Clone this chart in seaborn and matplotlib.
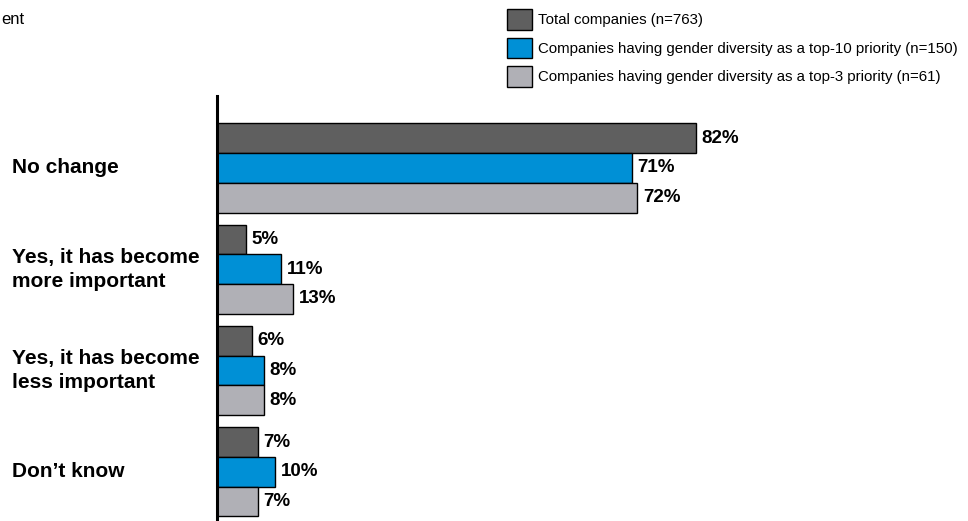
import numpy as np
import pandas as pd
import matplotlib
matplotlib.use('Agg')
import matplotlib.pyplot as plt
import seaborn as sns

categories = ['No change', 'Yes, it has become\nmore important',
              'Yes, it has become\nless important', 'Don\u2019t know']
series = ['Total companies (n=763)',
          'Companies having gender diversity as a top-10 priority (n=150)',
          'Companies having gender diversity as a top-3 priority (n=61)']
total = [82, 5, 6, 7]
top10 = [71, 11, 8, 10]
top3 = [72, 13, 8, 7]
colors = ['#5f5f5f', '#0090d6', '#b0b0b6']

rows = []
for s, vals in zip(series, [total, top10, top3]):
    for c, v in zip(categories, vals):
        rows.append({'cat': c, 'series': s, 'value': v})
df = pd.DataFrame(rows)

sns.set_style('white')
plt.rcParams['font.family'] = ['Liberation Sans', 'DejaVu Sans']
plt.rcParams['text.color'] = 'black'

W, H = 968, 521
fig = plt.figure(figsize=(W / 100, H / 100), dpi=100)
ax = fig.add_axes([217 / W, 0, (W - 217) / W, 425 / H])

sns.barplot(data=df, y='cat', x='value', hue='series', order=categories,
            hue_order=series, palette=colors, width=0.88, orient='h',
            edgecolor='black', linewidth=1, saturation=1, ax=ax, legend=True)

ax.set_xlim(0, (W - 217) / 5.84)
ax.set_ylim(3.485, -0.71)
for sp in ['top', 'right', 'bottom']:
    ax.spines[sp].set_visible(False)
ax.spines['left'].set_linewidth(2.2)
ax.spines['left'].set_color('black')
ax.set_xticks([])
ax.set_yticks([])
ax.set_xlabel('')
ax.set_ylabel('')

# value labels
for cont in ax.containers:
    labels = [f'{int(round(b.get_width()))}%' for b in cont]
    ax.bar_label(cont, labels=labels, padding=4, fontsize=13.5,
                 fontweight='bold', color='black')

# category labels
trans = matplotlib.transforms.blended_transform_factory(fig.transFigure, ax.transData)
for i, c in enumerate(categories):
    ax.text(12 / W, i, c, transform=trans, ha='left', va='center', color='black',
            fontsize=15, fontweight='bold', linespacing=1.35)

# legend
handles, labels = ax.get_legend_handles_labels()
ax.get_legend().remove()
leg = fig.legend(handles, labels, loc='upper left', bbox_to_anchor=(507 / W, 1 - 9 / H),
                 frameon=False, fontsize=10.8, handlelength=1.69, handleheight=1.74,
                 labelspacing=0.53, handletextpad=0.4, borderaxespad=0, borderpad=0)
for t in leg.get_texts():
    t.set_color('black')

fig.text(1 / W, 1 - 19 / H, 'ent', ha='left', va='center', fontsize=12, color='black')

fig.savefig('out.png', dpi=100)
